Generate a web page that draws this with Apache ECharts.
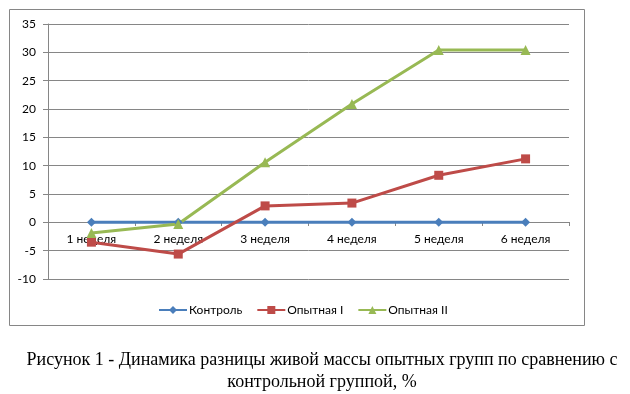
<!DOCTYPE html>
<html>
<head>
    <meta charset="utf-8">
    <title>Динамика разницы живой массы</title>
    <style type="text/css">
        * { margin: 0; padding: 0; }
        body { background: #fff; }
    </style>
</head>
<body>
    <div id="chart" style="width: 630px; height: 394px;"></div>
    <script src="https://cdn.jsdelivr.net/npm/echarts@6/dist/echarts.min.js"></script>
    <script type="text/javascript">
        // недели
        var weeks = ['1 неделя', '2 неделя', '3 неделя', '4 неделя', '5 неделя', '6 неделя'];
        var seriesNames = ['Контроль', 'Опытная I', 'Опытная II'];
        var control = [0, 0, 0, 0, 0, 0];
        var groupOne = [-3.5, -5.6, 2.9, 3.4, 8.3, 11.2];
        var groupTwo = [-1.9, -0.3, 10.6, 20.9, 30.4, 30.4];

        var axisFont = 'Lato, "Open Sans", sans-serif';
        var myChart = echarts.init(document.getElementById('chart'));

        var option = {
            animation: false,
            title: {
                text: 'Рисунок 1 - Динамика разницы живой массы опытных групп по сравнению с\nконтрольной группой, %',
                left: 317,
                textAlign: 'center',
                top: 344,
                textStyle: {
                    fontFamily: '"Liberation Serif", serif',
                    fontSize: 18,
                    fontWeight: 'normal',
                    color: '#000',
                    lineHeight: 22,
                    align: 'center'
                }
            },
            graphic: [{
                type: 'rect',
                shape: { x: 9.5, y: 9.5, width: 575, height: 316 },
                style: { fill: 'none', stroke: '#868686', lineWidth: 1 },
                silent: true
            }],
            legend: {
                data: seriesNames,
                left: 153,
                top: 299,
                itemWidth: 28,
                itemHeight: 10,
                itemGap: 14,
                textStyle: { fontFamily: axisFont, fontSize: 12, color: '#000', padding: [0, 0, 0, -3] }
            },
            grid: {
                left: 48,
                right: 61,
                top: 24,
                bottom: 115
            },
            xAxis: {
                type: 'category',
                data: weeks,
                boundaryGap: true,
                // ось проходит через ноль
                offset: -57,
                axisLine: { onZero: false, lineStyle: { color: '#868686', width: 1 } },
                axisTick: { show: true, length: 4, inside: false, lineStyle: { color: '#868686' } },
                axisLabel: { margin: 11, fontFamily: axisFont, fontSize: 12, color: '#000' },
                splitLine: { show: false }
            },
            yAxis: {
                type: 'value',
                min: -10,
                max: 35,
                interval: 5,
                axisLine: { show: true, lineStyle: { color: '#868686', width: 1 } },
                axisTick: { show: true, length: 5, lineStyle: { color: '#868686' } },
                axisLabel: { margin: 12, fontFamily: axisFont, fontSize: 12, color: '#000' },
                splitLine: { show: true, lineStyle: { color: '#868686', width: 1 } }
            },
            series: [{
                name: seriesNames[0],
                type: 'line',
                data: control,
                symbol: 'diamond',
                symbolSize: 9,
                color: '#4A7EBB',
                lineStyle: { width: 3 }
            }, {
                name: seriesNames[1],
                type: 'line',
                data: groupOne,
                symbol: 'rect',
                symbolSize: 9,
                color: '#BE4B48',
                lineStyle: { width: 3 }
            }, {
                name: seriesNames[2],
                type: 'line',
                data: groupTwo,
                symbol: 'triangle',
                symbolSize: 10,
                color: '#98B954',
                lineStyle: { width: 3 }
            }]
        };

        myChart.setOption(option, true);
    </script>
</body>
</html>
